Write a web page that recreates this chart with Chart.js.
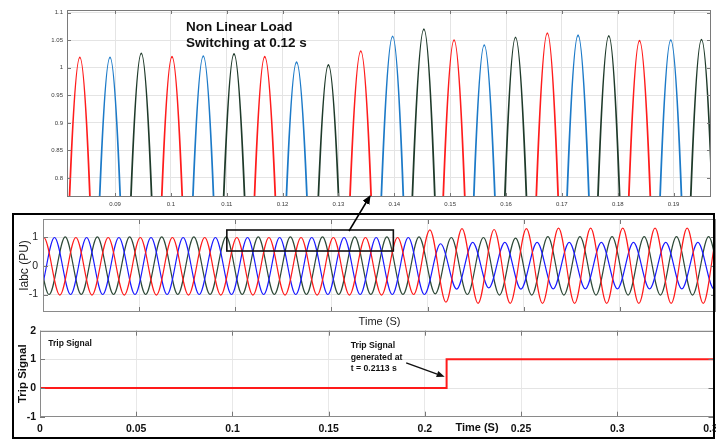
<!DOCTYPE html>
<html>
<head>
<meta charset="utf-8">
<title>Phase currents and trip signal</title>
<script src="https://cdn.jsdelivr.net/npm/chart.js@4.4.0/dist/chart.umd.min.js"></script>
<style>
  html, body { margin: 0; padding: 0; background: #fff; }
  body { position: relative; width: 716px; height: 439px; overflow: hidden; }
  canvas { position: absolute; left: 0; }
  #zoomChart { top: 0; }
  #currentChart { top: 214px; }
  #tripChart { top: 322px; }
  #frame { position: absolute; left: 12px; top: 213px; width: 703px; height: 226px; border: 2px solid #000; box-sizing: border-box; pointer-events: none; }
  #overlay { position: absolute; left: 0; top: 0; pointer-events: none; }
</style>
</head>
<body>
<canvas id="zoomChart" width="716" height="212"></canvas>
<canvas id="currentChart" width="716" height="116"></canvas>
<canvas id="tripChart" width="716" height="117"></canvas>
<div id="frame"></div>
<svg id="overlay" width="716" height="439">
  <defs>
    <marker id="head" markerWidth="9" markerHeight="8" refX="8" refY="4" orient="auto" markerUnits="userSpaceOnUse">
      <path d="M0,0 L9,4 L0,8 z" fill="#000"/>
    </marker>
  </defs>
  <line x1="349" y1="231" x2="370" y2="196" stroke="#000" stroke-width="1.5" marker-end="url(#head)"/>
</svg>
<script>
const FONT = "'Liberation Sans', Arial, Helvetica, sans-serif";
Chart.defaults.font.family = FONT;
Chart.defaults.color = '#222';

// top window: peaks of the three phases, peak / trough times (s) and values (pu)
const zoomTimeA = [0.0670, 0.0753, 0.0837, 0.0919, 0.1002, 0.1085, 0.1168, 0.1254, 0.1340, 0.1423, 0.1507, 0.1590, 0.1674, 0.1756, 0.1839, 0.1923, 0.2006];
const zoomPuA   = [1.020, -1.02, 1.019, -1.02, 1.020, -1.02, 1.020, -1.02, 1.030, -1.05, 1.050, -1.05, 1.063, -1.05, 1.049, -1.05, 1.050];
const zoomTimeB = [0.0724, 0.0807, 0.0891, 0.0974, 0.1058, 0.1141, 0.1225, 0.1311, 0.1397, 0.1479, 0.1561, 0.1645, 0.1729, 0.1812, 0.1895, 0.1978, 0.2062];
const zoomPuB   = [1.020, -1.02, 1.019, -1.02, 1.021, -1.02, 1.010, -1.02, 1.057, -1.05, 1.041, -1.05, 1.059, -1.05, 1.050, -1.05, 1.050];
const zoomTimeC = [0.0781, 0.0864, 0.0947, 0.1030, 0.1113, 0.1198, 0.1282, 0.1367, 0.1453, 0.1535, 0.1617, 0.1701, 0.1784, 0.1867, 0.1950, 0.2033, 0.2116];
const zoomPuC   = [1.025, -1.02, 1.026, -1.02, 1.025, -1.02, 1.005, -1.02, 1.070, -1.05, 1.055, -1.05, 1.058, -1.05, 1.051, -1.05, 1.050];
const zoomTicksX = [0.09, 0.10, 0.11, 0.12, 0.13, 0.14, 0.15, 0.16, 0.17, 0.18, 0.19];
const zoomTicksY = [0.8, 0.85, 0.9, 0.95, 1, 1.05, 1.1];

// phase currents: one entry per cycle, keyed on the phase A peak time
const PERIOD = 0.01673;
const cycleStart = [-0.0163, 0.0004, 0.0171, 0.0339, 0.0506, 0.0673, 0.0841, 0.1008, 0.1175, 0.1342, 0.1510, 0.1677,
                    0.1844, 0.2012, 0.2179, 0.2346, 0.2514, 0.2681, 0.2848, 0.3015, 0.3183, 0.3350, 0.3517];
const iaPeak   = [1, 1, 1, 1, 1, 1, 1, 1, 1, 1, 1, 1, 1, 1.27, 1.31, 1.28, 1.31, 1.33, 1.33, 1.33, 1.33, 1.33, 1.33];
const iaTrough = [-1.02, -1.02, -1.02, -1.02, -1.02, -1.02, -1.02, -1.02, -1.02, -1.02, -1.02, -1.02, -1.0, -1.27,
                  -1.31, -1.31, -1.31, -1.31, -1.31, -1.31, -1.31, -1.31, -1.31];
const ibPeak   = [1, 1, 1, 1, 1, 1, 1, 1, 1, 1, 1, 1, 1, 0.78, 0.83, 0.83, 0.83, 0.83, 0.83, 0.83, 0.83, 0.83, 0.83];
const ibTrough = [-1, -1, -1, -1, -1, -1, -1, -1, -1, -1, -1, -1, -1, -0.81, -0.77, -0.81, -0.8, -0.8, -0.8, -0.8, -0.8, -0.8, -0.8];
const icPeak   = [1.02, 1.02, 1.02, 1.02, 1.02, 1.02, 1.02, 1.02, 1.02, 1.02, 1.02, 1.02, 1.02, 1.0, 1.0, 0.98,
                  1.03, 1.03, 1.03, 1.03, 1.03, 1.03, 1.03];
const icTrough = [-1, -1, -1, -1, -1, -1, -1, -1, -1, -1, -1, -1, -1, -0.98, -1.0, -1.02, -1.02, -1.02, -1.02, -1.02, -1.02, -1.02, -1.02];
const currentTicksX = [0, 0.05, 0.1, 0.15, 0.2, 0.25, 0.3, 0.35];
const currentTicksY = [-1, 0, 1];

// trip signal
const tripTime  = [0, 0.2113, 0.35];
const tripState = [0, 1, 1];
const tripTicksX = [0, 0.05, 0.1, 0.15, 0.2, 0.25, 0.3, 0.35];
const tripTicksY = [-1, 0, 1, 2];

const xy = (xs, ys) => xs.map((x, i) => ({ x, y: ys[i] }));

// peaks and troughs of one phase, shifted from the phase A peak times
function phase(peaks, troughs, peakShift, troughShift) {
  const pts = [];
  cycleStart.forEach((c, i) => {
    pts.push({ x: c + peakShift, y: peaks[i] });
    pts.push({ x: c + troughShift, y: troughs[i] });
  });
  return pts.sort((p, q) => p.x - q.x);
}

const fmt = v => String(+Number(v).toFixed(3));
const fixedTicks = list => scale => { scale.ticks = list.map(value => ({ value })); };
const fixSize = size => scale => {
  if (scale.isHorizontal()) scale.height = size; else scale.width = size;
  scale.paddingLeft = scale.paddingRight = scale.paddingTop = scale.paddingBottom = 0;
};

// matlab-like axes box with inward ticks
const axesBox = {
  id: 'axesBox',
  afterDatasetsDraw(chart, args, o) {
    const { ctx, chartArea: a, scales: { x, y } } = chart;
    ctx.save();
    ctx.lineWidth = 1;
    ctx.strokeStyle = o.tickColor;
    ctx.beginPath();
    x.ticks.forEach(t => {
      const px = Math.round(x.getPixelForValue(t.value)) + 0.5;
      ctx.moveTo(px, a.top); ctx.lineTo(px, a.top + o.tick);
      ctx.moveTo(px, a.bottom); ctx.lineTo(px, a.bottom - o.tick);
    });
    y.ticks.forEach(t => {
      const py = Math.round(y.getPixelForValue(t.value)) + 0.5;
      ctx.moveTo(a.left, py); ctx.lineTo(a.left + o.tick, py);
      ctx.moveTo(a.right, py); ctx.lineTo(a.right - o.tick, py);
    });
    ctx.stroke();
    ctx.strokeStyle = o.boxColor;
    ctx.strokeRect(Math.round(a.left) + 0.5, Math.round(a.top) + 0.5, Math.round(a.width) - 1, Math.round(a.height) - 1);
    ctx.restore();
  }
};

// free text, boxes and arrows
const notes = {
  id: 'notes',
  afterDraw(chart, args, o) {
    const { ctx, scales: { x, y } } = chart;
    ctx.save();
    (o.texts || []).forEach(t => {
      ctx.font = t.font;
      ctx.fillStyle = t.color || '#111';
      ctx.textAlign = t.align || 'left';
      ctx.textBaseline = t.baseline || 'middle';
      ctx.fillText(t.text, t.x, t.y);
    });
    (o.boxes || []).forEach(b => {
      const x0 = x.getPixelForValue(b.x0), x1 = x.getPixelForValue(b.x1);
      const y0 = y.getPixelForValue(b.y0), y1 = y.getPixelForValue(b.y1);
      ctx.lineWidth = 1.6;
      ctx.strokeStyle = '#111';
      ctx.strokeRect(x0, y1, x1 - x0, y0 - y1);
    });
    (o.arrows || []).forEach(ar => {
      const x0 = x.getPixelForValue(ar.from[0]), y0 = y.getPixelForValue(ar.from[1]);
      const x1 = x.getPixelForValue(ar.to[0]), y1 = y.getPixelForValue(ar.to[1]);
      const ang = Math.atan2(y1 - y0, x1 - x0), L = 8, W = 3.2;
      const bx = x1 - L * Math.cos(ang), by = y1 - L * Math.sin(ang);
      ctx.strokeStyle = ctx.fillStyle = '#111';
      ctx.lineWidth = 1.4;
      ctx.beginPath(); ctx.moveTo(x0, y0); ctx.lineTo(bx, by); ctx.stroke();
      ctx.beginPath();
      ctx.moveTo(x1, y1);
      ctx.lineTo(bx + W * Math.sin(ang), by - W * Math.cos(ang));
      ctx.lineTo(bx - W * Math.sin(ang), by + W * Math.cos(ang));
      ctx.closePath(); ctx.fill();
    });
    ctx.restore();
  }
};

const wave = (data, color, width) => ({
  data, borderColor: color, borderWidth: width, pointRadius: 0,
  cubicInterpolationMode: 'monotone', clip: 0, fill: false
});

const baseOptions = {
  responsive: false, animation: false, devicePixelRatio: 1,
  events: []
};

// top: zoomed peaks
new Chart(document.getElementById('zoomChart'), {
  type: 'line',
  data: {
    datasets: [
      wave(xy(zoomTimeA, zoomPuA), 'rgb(255,28,28)', 1.8),
      wave(xy(zoomTimeB, zoomPuB), 'rgb(28,122,200)', 1.8),
      wave(xy(zoomTimeC, zoomPuC), 'rgb(30,58,42)', 1.8)
    ]
  },
  plugins: [axesBox, notes],
  options: {
    ...baseOptions,
    layout: { padding: { left: 0, top: 10, right: 5, bottom: 0 } },
    plugins: {
      legend: { display: false }, tooltip: { enabled: false },
      axesBox: { tickColor: '#777', boxColor: '#7a7a7a', tick: 4 },
      notes: {
        texts: [
          { text: 'Non Linear Load', x: 186, y: 30.7, baseline: 'alphabetic', font: 'bold 13.5px ' + FONT },
          { text: 'Switching at 0.12 s', x: 186, y: 47.3, baseline: 'alphabetic', font: 'bold 13.5px ' + FONT }
        ]
      }
    },
    scales: {
      x: {
        type: 'linear', min: 0.0814, max: 0.1967,
        afterBuildTicks: fixedTicks(zoomTicksX), afterFit: fixSize(15),
        grid: { color: '#e4e4e4', drawTicks: false }, border: { display: false },
        ticks: { font: { size: 6 }, color: '#3a3a3a', padding: 3.5, callback: fmt, maxRotation: 0, autoSkip: false }
      },
      y: {
        type: 'linear', min: 0.7655, max: 1.1048,
        afterBuildTicks: fixedTicks(zoomTicksY), afterFit: fixSize(67),
        grid: { color: '#e4e4e4', drawTicks: false }, border: { display: false },
        ticks: { font: { size: 6 }, color: '#3a3a3a', padding: 4, callback: fmt, autoSkip: false }
      }
    }
  }
});

// middle: three phase currents
new Chart(document.getElementById('currentChart'), {
  type: 'line',
  data: {
    datasets: [
      wave(phase(iaPeak, iaTrough, 0, PERIOD / 2), '#ff1a1a', 1.2),
      wave(phase(ibPeak, ibTrough, PERIOD / 3, PERIOD * 5 / 6), '#1a1aff', 1.2),
      wave(phase(icPeak, icTrough, PERIOD * 2 / 3, PERIOD / 6), '#2e4a38', 1.2)
    ]
  },
  plugins: [axesBox, notes],
  options: {
    ...baseOptions,
    layout: { padding: { left: 0, top: 5, right: 0, bottom: 0 } },
    plugins: {
      legend: { display: false }, tooltip: { enabled: false },
      axesBox: { tickColor: '#777', boxColor: '#8a8a8a', tick: 5 },
      notes: { boxes: [{ x0: 0.0956, x1: 0.1822, y0: 0.526, y1: 1.263 }] }
    },
    scales: {
      x: {
        type: 'linear', min: 0, max: 0.35,
        afterBuildTicks: fixedTicks(currentTicksX), afterFit: fixSize(18),
        grid: { color: '#e8e8e8', drawTicks: false }, border: { display: false },
        ticks: { display: false },
        title: { display: true, text: 'Time (S)', font: { size: 11 }, color: '#222', padding: { top: 0, bottom: 1.4 } }
      },
      y: {
        type: 'linear', min: -1.614, max: 1.649,
        afterBuildTicks: fixedTicks(currentTicksY), afterFit: fixSize(43),
        grid: { color: '#e4e4e4', drawTicks: false }, border: { display: false },
        ticks: { font: { size: 10.5 }, color: '#222', padding: 5, callback: fmt },
        title: { display: true, text: 'Iabc (PU)', font: { size: 12 }, color: '#222', padding: { top: 17.8, bottom: 0 } }
      }
    }
  }
});

// bottom: trip signal
new Chart(document.getElementById('tripChart'), {
  type: 'line',
  data: {
    datasets: [{
      data: xy(tripTime, tripState), borderColor: '#ff1a1a', borderWidth: 2,
      pointRadius: 0, stepped: 'before', clip: 2, fill: false
    }]
  },
  plugins: [axesBox, notes],
  options: {
    ...baseOptions,
    layout: { padding: { left: 0, top: 8.7, right: 2.5, bottom: 0 } },
    plugins: {
      legend: { display: false }, tooltip: { enabled: false },
      axesBox: { tickColor: '#777', boxColor: '#8a8a8a', tick: 5 },
      notes: {
        texts: [
          { text: 'Trip Signal', x: 48.3, y: 22, font: 'bold 8.5px ' + FONT },
          { text: 'Trip Signal', x: 350.7, y: 23.7, font: 'bold 8.7px ' + FONT },
          { text: 'generated at', x: 350.7, y: 35.3, font: 'bold 8.7px ' + FONT },
          { text: 't = 0.2113 s', x: 350.7, y: 46.3, font: 'bold 8.7px ' + FONT },
          { text: 'Time (S)', x: 477, y: 106, align: 'center', font: 'bold 11px ' + FONT }
        ],
        arrows: [{ from: [0.1903, 0.88], to: [0.2103, 0.39] }]
      }
    },
    scales: {
      x: {
        type: 'linear', min: 0, max: 0.35,
        afterBuildTicks: fixedTicks(tripTicksX), afterFit: fixSize(22.3),
        grid: { color: '#e8e8e8', drawTicks: false }, border: { display: false },
        ticks: { font: { size: 10.5, weight: 'bold' }, color: '#111', padding: 5.8, callback: fmt, maxRotation: 0, autoSkip: false }
      },
      y: {
        type: 'linear', min: -1, max: 2,
        afterBuildTicks: fixedTicks(tripTicksY), afterFit: fixSize(40),
        grid: { color: '#e4e4e4', drawTicks: false }, border: { display: false },
        ticks: { font: { size: 10.5, weight: 'bold' }, color: '#111', padding: 4, callback: fmt },
        title: { display: true, text: 'Trip Signal', font: { size: 11.5, weight: 'bold' }, color: '#111', padding: { top: 15.6, bottom: 0 } }
      }
    }
  }
});
</script>
</body>
</html>
